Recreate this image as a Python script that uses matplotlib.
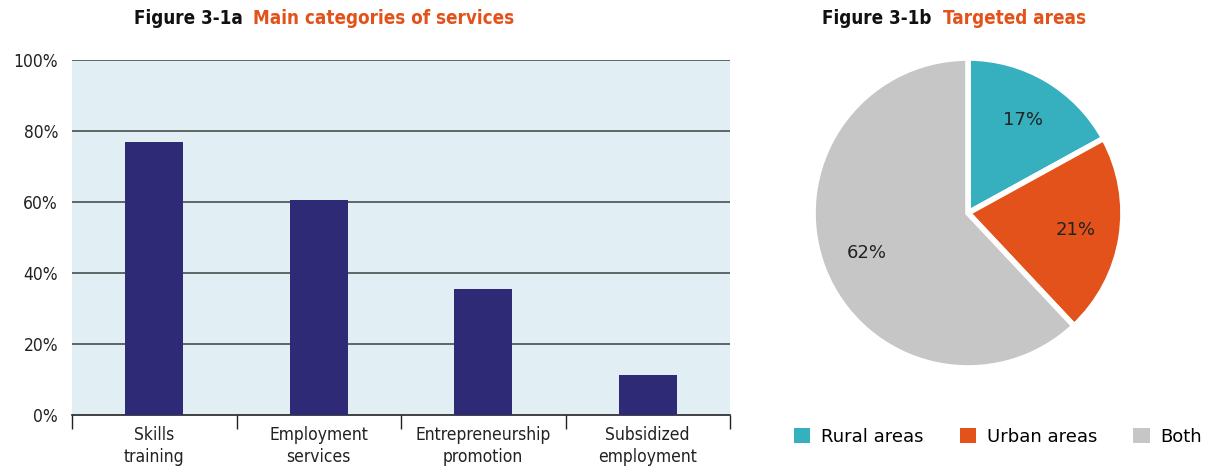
import matplotlib
matplotlib.use('Agg')
from matplotlib import pyplot as plt
from matplotlib.patches import Patch

plt.rcParams['font.family'] = ['DejaVu Sans']

# service categories (share of programmes, %)
categories = ['Skills\ntraining', 'Employment\nservices', 'Entrepreneurship\npromotion', 'Subsidized\nemployment']
shares = [77, 60.5, 35.5, 11.3]

# targeted areas (%)
area_labels = ['Rural areas', 'Urban areas', 'Both']
area_shares = [17, 21, 62]

navy = '#2e2a76'
orange = '#e3521a'
teal = '#36afbe'
grey = '#c6c6c6'
panel_bg = '#e1eef3'
ink = '#222222'

W, H = 1208, 471
fig = plt.figure(figsize=(W / 100, H / 100), dpi=100)

# --- bar chart ---
ax = fig.add_axes([72 / W, 1 - 415 / H, 658 / W, 355 / H])
ax.set_facecolor(panel_bg)
x = list(range(len(categories)))
ax.bar(x, shares, width=0.35, color=navy, zorder=3)
ax.set_xlim(-0.5, len(categories) - 0.5)
ax.set_ylim(0, 100)
ax.set_yticks([0, 20, 40, 60, 80, 100])
ax.set_yticklabels(['0%', '20%', '40%', '60%', '80%', '100%'], fontsize=12.5, color=ink,
                   fontstretch='condensed')
for v in [20, 40, 60, 80, 100]:
    ax.axhline(v, color='#555b5b', lw=1.3, zorder=2)
for s in ['left', 'right', 'top']:
    ax.spines[s].set_visible(False)
ax.spines['bottom'].set_color(ink)
ax.spines['bottom'].set_linewidth(1.2)
ax.tick_params(axis='y', length=0, pad=10)
ax.set_xticks([i - 0.5 for i in range(len(categories) + 1)])
ax.set_xticklabels([])
ax.tick_params(axis='x', direction='out', length=10, width=1, color=ink)
ax.set_xticks(x, minor=True)
ax.set_xticklabels(categories, minor=True, fontsize=12.5, color=ink, linespacing=1.3,
                   fontstretch='condensed')
ax.tick_params(axis='x', which='minor', length=0, pad=8)

# --- pie chart ---
pax = fig.add_axes([798 / W, 1 - 383 / H, 340 / W, 340 / H])
wedges, texts, autotexts = pax.pie(
    area_shares, colors=[teal, orange, grey], startangle=90, counterclock=False,
    autopct='%d%%', pctdistance=0.7, radius=1,
    wedgeprops=dict(edgecolor='white', linewidth=4),
    textprops=dict(fontsize=13, color=ink))
pax.set_xlim(-1.097, 1.097)
pax.set_ylim(-1.097, 1.097)
pax.set_aspect('equal')

handles = [Patch(facecolor=c, edgecolor='none') for c in [teal, orange, grey]]
fig.legend(handles, area_labels, loc='center', bbox_to_anchor=(998 / W, 1 - 437 / H),
           ncol=3, frameon=False, fontsize=13, handlelength=0.9, handleheight=0.9,
           handletextpad=0.6, columnspacing=2.0)

# --- two-colour titles, centred over each panel ---
title_kw = dict(va='center', ha='left', fontsize=13.5, fontweight='bold', fontstretch='condensed')
renderer = fig.canvas.get_renderer()


def two_tone_title(xc, label, text):
    a = fig.text(0, 1 - 18 / H, label, color='#111111', **title_kw)
    b = fig.text(0, 1 - 18 / H, text, color=orange, **title_kw)
    wa = a.get_window_extent(renderer).width
    wb = b.get_window_extent(renderer).width
    gap = 11
    x0 = xc - (wa + gap + wb) / 2
    a.set_x(x0 / W)
    b.set_x((x0 + wa + gap) / W)


two_tone_title(324, 'Figure 3-1a', 'Main categories of services')
two_tone_title(954, 'Figure 3-1b', 'Targeted areas')

fig.savefig('out.png', dpi=100, facecolor='white')
